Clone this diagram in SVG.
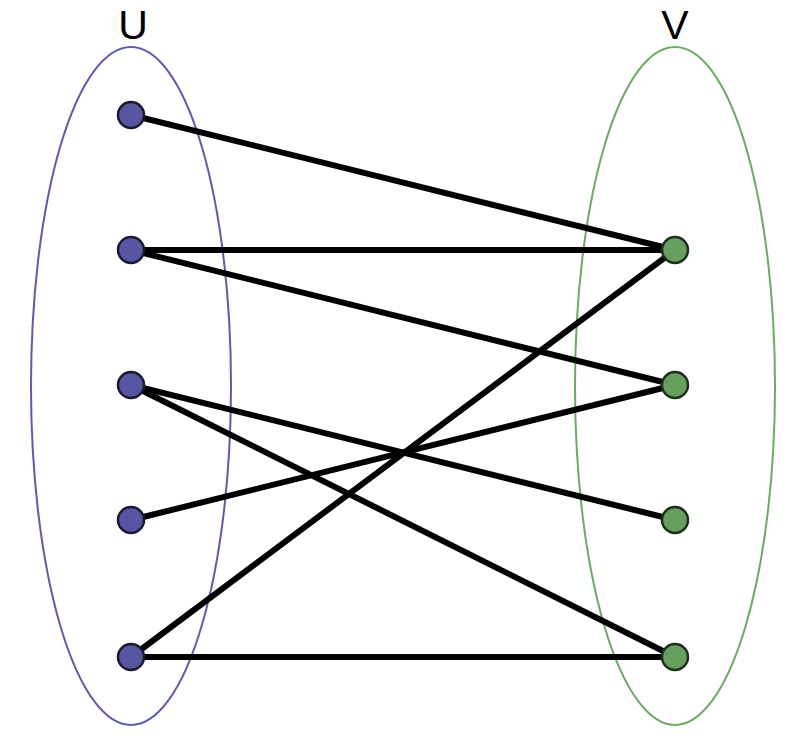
<svg xmlns="http://www.w3.org/2000/svg" width="794" height="742" viewBox="0 0 794 742">
<style>
.lbl{font-family:"Liberation Sans",Arial,sans-serif;font-size:41px;fill:#000;text-anchor:middle}
.u{fill:#5656a3;stroke:#1a1a2e;stroke-width:2.5}
.v{fill:#66a05e;stroke:#1e2e1c;stroke-width:2.5}
.e{stroke:#000;stroke-width:6;stroke-linecap:round}
</style>
<rect width="794" height="742" fill="#fff"/>
<g id="setU"><ellipse cx="131" cy="386" rx="100" ry="339" fill="none" stroke="#5b5bb3" stroke-width="2"/><text class="lbl" x="133" y="39">U</text></g>
<g id="setV"><ellipse cx="675" cy="386" rx="100" ry="339" fill="none" stroke="#6aab62" stroke-width="2"/><text class="lbl" x="675" y="39">V</text></g>
<g id="edges">
<line class="e" x1="131" y1="115" x2="675" y2="250"/>
<line class="e" x1="131" y1="250" x2="675" y2="250"/>
<line class="e" x1="131" y1="250" x2="675" y2="385"/>
<line class="e" x1="131" y1="385" x2="675" y2="520"/>
<line class="e" x1="131" y1="385" x2="675" y2="657"/>
<line class="e" x1="131" y1="520" x2="675" y2="385"/>
<line class="e" x1="131" y1="657" x2="675" y2="250"/>
<line class="e" x1="131" y1="657" x2="675" y2="657"/>
</g>
<g id="u1"><circle class="u" cx="131" cy="115" r="13"/></g>
<g id="u2"><circle class="u" cx="131" cy="250" r="13"/></g>
<g id="u3"><circle class="u" cx="131" cy="385" r="13"/></g>
<g id="u4"><circle class="u" cx="131" cy="520" r="13"/></g>
<g id="u5"><circle class="u" cx="131" cy="657" r="13"/></g>
<g id="v1"><circle class="v" cx="675" cy="250" r="13"/></g>
<g id="v2"><circle class="v" cx="675" cy="385" r="13"/></g>
<g id="v3"><circle class="v" cx="675" cy="520" r="13"/></g>
<g id="v4"><circle class="v" cx="675" cy="657" r="13"/></g>
</svg>
